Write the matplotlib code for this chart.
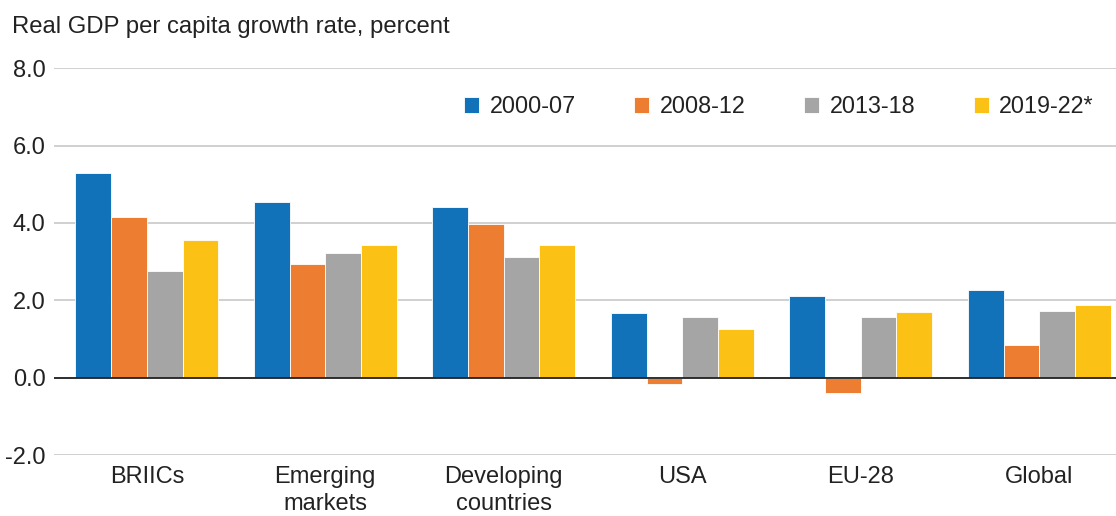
import matplotlib
matplotlib.use("Agg")
import matplotlib.pyplot as plt
import numpy as np

plt.rcParams['font.family'] = ['Liberation Sans', 'DejaVu Sans']

categories = ["BRIICs", "Emerging\nmarkets", "Developing\ncountries", "USA", "EU-28", "Global"]
series_names = ["2000-07", "2008-12", "2013-18", "2019-22*"]
v_2000_07 = [5.30, 4.55, 4.42, 1.66, 2.12, 2.26]
v_2008_12 = [4.16, 2.95, 3.96, -0.16, -0.39, 0.84]
v_2013_18 = [2.77, 3.23, 3.13, 1.56, 1.56, 1.73]
v_2019_22 = [3.55, 3.44, 3.42, 1.27, 1.69, 1.89]
yticks = [-2.0, 0.0, 2.0, 4.0, 6.0, 8.0]
colors = ["#1172BA", "#ED7D31", "#A5A5A5", "#FBC115"]

series = [v_2000_07, v_2008_12, v_2013_18, v_2019_22]

fig = plt.figure(figsize=(11.16, 5.16), dpi=100)
ax = fig.add_axes([0.0484, 0.118, 0.9516, 0.75])

x = np.arange(len(categories))
w = 0.2
for i, (vals, name, c) in enumerate(zip(series, series_names, colors)):
    ax.bar(x + (i - 1.5) * w, vals, width=w, color=c, label=name,
           edgecolor="white", linewidth=0.6, zorder=3)

ax.set_ylim(-2.0, 8.0)
ax.set_xlim(-0.52, 5.43)
ax.set_yticks(yticks)
ax.set_yticklabels([f"{t:.1f}" for t in yticks], fontsize=17, color="#222222")
ax.set_xticks(x)
ax.set_xticklabels(categories, fontsize=17, color="#222222", linespacing=1.3)
ax.tick_params(axis='both', length=0, pad=6)
ax.tick_params(axis='x', pad=8)
for s in ax.spines.values():
    s.set_visible(False)
ax.grid(axis='y', color="#c8c8c8", linewidth=1.2, zorder=0)
ax.axhline(0, color="#222222", linewidth=1.3, zorder=4)

fig.text(0.011, 0.948, "Real GDP per capita growth rate, percent", fontsize=17.2,
         color="#222222", ha="left", va="center")

leg = ax.legend(loc="center right", bbox_to_anchor=(0.988, 0.9), ncol=4, frameon=False,
                fontsize=16.8, handlelength=0.65, handleheight=0.65, handletextpad=0.45,
                columnspacing=2.5, borderaxespad=0)
for t in leg.get_texts():
    t.set_color("#222222")

fig.savefig("out.png", dpi=100)
